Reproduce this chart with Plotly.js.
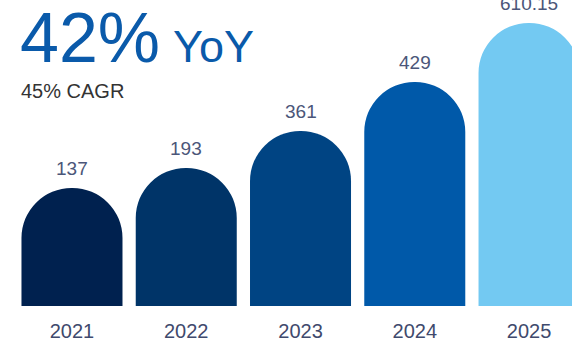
<!DOCTYPE html>
<html>
<head>
<meta charset="utf-8">
<script src="https://cdn.plot.ly/plotly-3.0.1.min.js"></script>
<style>html,body{margin:0;padding:0;background:#fff;}#chart{width:572px;height:344px;}</style>
</head>
<body>
<div id="chart"></div>
<script>
// Data
var years = ['2021', '2022', '2023', '2024', '2025'];
var values = [137, 193, 361, 429, 610.15];
var valueLabels = ['137', '193', '361', '429', '610.15'];
// Visual (stylised) bar heights as drawn in the reference, arbitrary units
var barHeights = [118, 138, 175, 224, 283];
var barColors = ['#00214f', '#003468', '#004483', '#0059a9', '#73c9f2'];
var headline = '42%';
var headlineSuffix = 'YoY';
var subtitle = '45% CAGR';

var FONT = 'Liberation Sans, Arial, sans-serif';

var trace = {
  type: 'bar',
  x: years,
  y: barHeights,
  marker: { color: barColors, cornerradius: '50%', line: { width: 0 } },
  hoverinfo: 'skip',
  cliponaxis: true
};

var annotations = years.map(function (yr, i) {
  return {
    x: i, y: barHeights[i], xref: 'x', yref: 'y',
    text: valueLabels[i], showarrow: false,
    xanchor: 'center', yanchor: 'bottom', yshift: 7,
    font: { family: FONT, size: 19, color: '#4b5679' }
  };
});

annotations.push({
  xref: 'paper', yref: 'paper', x: 18 / 572, y: (306 - 38) / 306,
  xanchor: 'left', yanchor: 'middle', showarrow: false,
  text: headline, font: { family: FONT, size: 70, color: '#0a5aaa' }
});
annotations.push({
  xref: 'paper', yref: 'paper', x: 171 / 572, y: (306 - 46) / 306,
  xanchor: 'left', yanchor: 'middle', showarrow: false,
  text: headlineSuffix, font: { family: FONT, size: 45, color: '#0a5aaa' }
});
annotations.push({
  xref: 'paper', yref: 'paper', x: 19 / 572, y: (306 - 91) / 306,
  xanchor: 'left', yanchor: 'middle', showarrow: false,
  text: subtitle, font: { family: FONT, size: 20, color: '#333333' }
});

var layout = {
  width: 572, height: 344,
  margin: { l: 0, r: 0, t: 0, b: 38, pad: 0 },
  paper_bgcolor: '#ffffff', plot_bgcolor: '#ffffff',
  showlegend: false,
  bargap: 0.116,
  xaxis: {
    type: 'category',
    range: [-0.630, 4.376],
    showgrid: false, zeroline: false, showline: false,
    ticks: '', ticklabelstandoff: 11,
    tickfont: { family: FONT, size: 20, color: '#3f4a6d' },
    fixedrange: true
  },
  yaxis: {
    range: [0, 306],
    showgrid: false, zeroline: false, showline: false,
    showticklabels: false, ticks: '',
    fixedrange: true
  },
  annotations: annotations
};

Plotly.newPlot('chart', [trace], layout, { staticPlot: true, displayModeBar: false });
</script>
</body>
</html>
